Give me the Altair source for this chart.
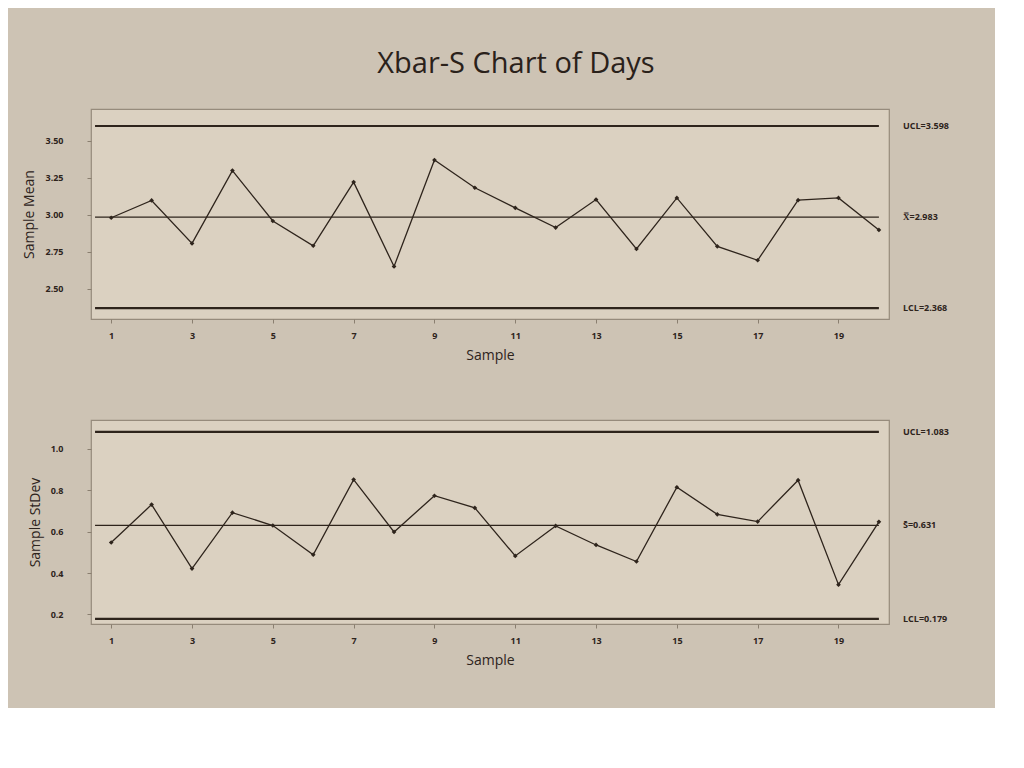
import altair as alt
import pandas as pd

samples = list(range(1, 21))
xbar = [2.978, 3.095, 2.805, 3.297, 2.956, 2.789, 3.219, 2.649, 3.368, 3.181,
        3.045, 2.912, 3.101, 2.767, 3.112, 2.785, 2.691, 3.097, 3.112, 2.896]
stdev = [0.548, 0.731, 0.422, 0.692, 0.630, 0.489, 0.852, 0.599, 0.774, 0.715,
         0.483, 0.628, 0.536, 0.456, 0.815, 0.684, 0.649, 0.849, 0.344, 0.648]

xbar_limits = [3.598, 2.983, 2.368]
xbar_limit_labels = ["UCL=3.598", "X\u033f=2.983", "LCL=2.368"]
s_limits = [1.083, 0.631, 0.179]
s_limit_labels = ["UCL=1.083", "S\u0304=0.631", "LCL=0.179"]
limit_kind = ["limit", "center", "limit"]

x_ticks = [1, 3, 5, 7, 9, 11, 13, 15, 17, 19]
xbar_ticks = [2.50, 2.75, 3.00, 3.25, 3.50]
s_ticks = [0.2, 0.4, 0.6, 0.8, 1.0]

W = 798
INK = "#2e241c"
FONT = "Open Sans"


def panel(values, limits, labels, ticks, fmt, ytitle, ydom, h):
    pts = pd.DataFrame({"Sample": samples, "v": values})
    lim = pd.DataFrame({"x1": [0.6] * 3, "x2": [20.0] * 3, "y": limits,
                        "label": labels, "kind": limit_kind})
    xs = alt.Scale(domain=[0.5, 20.25], nice=False, zero=False)
    ys = alt.Scale(domain=ydom, nice=False, zero=False)
    xaxis = alt.Axis(values=x_ticks, title="Sample", labelFontSize=9, labelFontWeight="bold",
                     titleFontSize=14, titleFontWeight="normal", grid=False, domain=False,
                     tickSize=4, labelPadding=8, titlePadding=8, labelColor=INK, titleColor=INK,
                     tickColor="#8a7f70", labelFont=FONT, titleFont=FONT)
    yaxis = alt.Axis(values=ticks, format=fmt, title=ytitle, labelFontSize=9, labelFontWeight="bold",
                     titleFontSize=14, titleFontWeight="normal", grid=False, domain=False,
                     tickSize=4, labelPadding=24, titlePadding=8, labelColor=INK, titleColor=INK,
                     tickColor="#8a7f70", labelFont=FONT, titleFont=FONT)
    base_lim = alt.Chart(lim)
    rules_lim = base_lim.transform_filter(alt.datum.kind == "limit").mark_rule(
        color=INK, strokeWidth=2.2).encode(
        x=alt.X("x1:Q", scale=xs, axis=xaxis), x2="x2:Q", y=alt.Y("y:Q", scale=ys, axis=yaxis))
    rule_c = base_lim.transform_filter(alt.datum.kind == "center").mark_rule(
        color=INK, strokeWidth=1.3).encode(
        x=alt.X("x1:Q", scale=xs), x2="x2:Q", y=alt.Y("y:Q", scale=ys))
    txt = base_lim.mark_text(align="left", baseline="middle", fontSize=9, fontWeight="bold",
                             color=INK, font=FONT).encode(
        x=alt.value(W + 14), y=alt.Y("y:Q", scale=ys), text="label:N")
    line = alt.Chart(pts).mark_line(color=INK, strokeWidth=1.3).encode(
        x=alt.X("Sample:Q", scale=xs), y=alt.Y("v:Q", scale=ys))
    dots = alt.Chart(pts).mark_point(shape="diamond", filled=True, size=22, color=INK, opacity=1).encode(
        x=alt.X("Sample:Q", scale=xs), y=alt.Y("v:Q", scale=ys))
    return alt.layer(rules_lim, rule_c, line, dots, txt).properties(width=W, height=h)


top = panel(xbar, xbar_limits, xbar_limit_labels, xbar_ticks, ".2f", "Sample Mean", [2.294, 3.713], 210)
bottom = panel(stdev, s_limits, s_limit_labels, s_ticks, ".1f", "Sample StDev", [0.154, 1.140], 204)

chart = alt.vconcat(top, bottom, spacing=56).properties(
    title=alt.TitleParams("Xbar-S Chart of Days", fontSize=29, font=FONT, fontWeight="normal",
                          color="#2a211a", anchor="middle", offset=29, dx=30),
    background="#cdc3b4",
    padding={"left": 14, "top": 42, "right": 45, "bottom": 40},
).configure_view(fill="#dbd1c1", stroke="#968b7c", strokeWidth=1.2)

chart.save("out.html", embed_options={"renderer": "svg", "actions": False})
